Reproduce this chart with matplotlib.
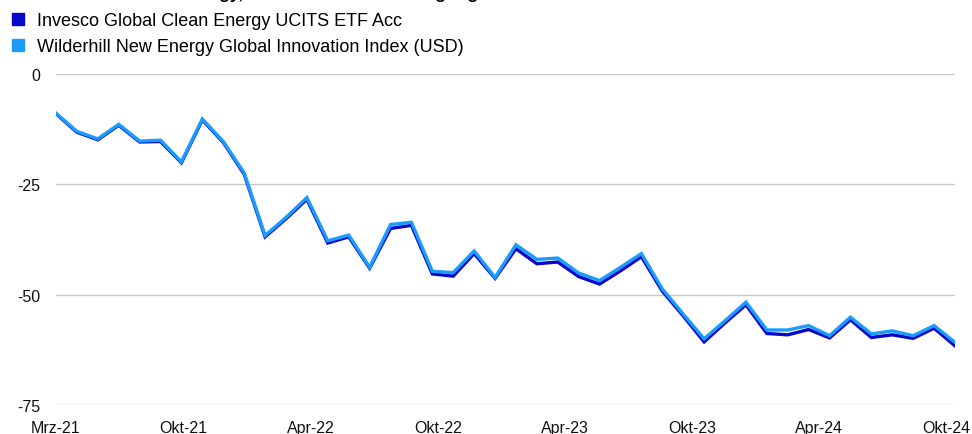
import matplotlib
matplotlib.use('Agg')
import matplotlib.pyplot as plt
from matplotlib.lines import Line2D
import numpy as np

plt.rcParams['font.family'] = ['Liberation Sans', 'DejaVu Sans']

# monthly values, Mrz-21 .. Okt-24 (44 points), % change
etf = [-9.0, -13.2, -14.9, -11.6, -15.4, -15.3, -20.1, -10.4, -15.5, -22.7,
       -36.9, -32.8, -28.4, -38.3, -36.9, -44.0, -35.0, -34.3, -45.3, -45.8,
       -40.7, -46.3, -39.6, -43.0, -42.6, -45.9, -47.6, -44.6, -41.4, -49.2,
       -54.8, -60.7, -56.4, -52.3, -58.8, -59.1, -57.9, -59.8, -55.7, -59.7,
       -59.1, -59.9, -57.6, -61.6]
index = [-8.9, -13.0, -14.7, -11.4, -15.2, -15.0, -19.9, -10.2, -15.3, -22.4,
         -36.6, -32.5, -28.0, -37.8, -36.5, -43.8, -34.1, -33.6, -44.7, -45.0,
         -40.1, -46.1, -38.7, -42.0, -41.7, -45.1, -46.8, -43.8, -40.7, -48.7,
         -54.4, -60.0, -55.9, -51.7, -58.0, -58.0, -57.0, -59.3, -55.1, -58.9,
         -58.2, -59.3, -57.0, -60.8]
tick_labels = ['Mrz-21', 'Okt-21', 'Apr-22', 'Okt-22', 'Apr-23', 'Okt-23', 'Apr-24', 'Okt-24']
series_names = ['Invesco Global Clean Energy UCITS ETF Acc',
                'Wilderhill New Energy Global Innovation Index (USD)']

c_dark = '#0808CC'
c_light = '#1A9CFF'

fig = plt.figure(figsize=(9.72, 4.35), dpi=100)
ax = fig.add_axes([56 / 972, 1 - 406 / 435, (955 - 56) / 972, 331 / 435])

x = np.arange(len(etf))
ax.plot(x, etf, color=c_dark, lw=2.4, solid_joinstyle='miter', zorder=3)
ax.plot(x, index, color=c_light, lw=2.4, solid_joinstyle='miter', zorder=4)

ax.set_xlim(0, len(etf) - 1)
ax.set_ylim(-75, 0)
ax.set_yticks([0, -25, -50, -75])
ax.set_yticklabels(['0', '-25', '-50', '-75'])
# labels are spread evenly, the last one sits a little left of the last point
ax.set_xticks(np.linspace(0, len(etf) - 1.4, len(tick_labels)))
ax.set_xticklabels(tick_labels)
ax.tick_params(axis='both', length=0, labelsize=11.5, colors='#111111')
ax.tick_params(axis='y', pad=11)
ax.tick_params(axis='x', pad=11)
ax.grid(axis='y', color='#C8C8C8', lw=1.0)
ax.set_axisbelow(True)
for s in ax.spines.values():
    s.set_visible(False)

# title, mostly cut off at the top edge
fig.text(0.0, 1.002, 'Invesco Global Clean Energy, Rendite in % seit Auflegung',
         fontsize=12.5, fontweight='bold', va='baseline', ha='left')

handles = [Line2D([], [], marker='s', ls='none', color=c_dark, markersize=8),
           Line2D([], [], marker='s', ls='none', color=c_light, markersize=8)]
fig.legend(handles, series_names, loc='upper left', bbox_to_anchor=(0.004, 0.982),
           frameon=False, fontsize=13, handlelength=1.0, handletextpad=0.55,
           labelspacing=0.5, borderaxespad=0.0, borderpad=0.3)

plt.savefig('out.png', dpi=100)
